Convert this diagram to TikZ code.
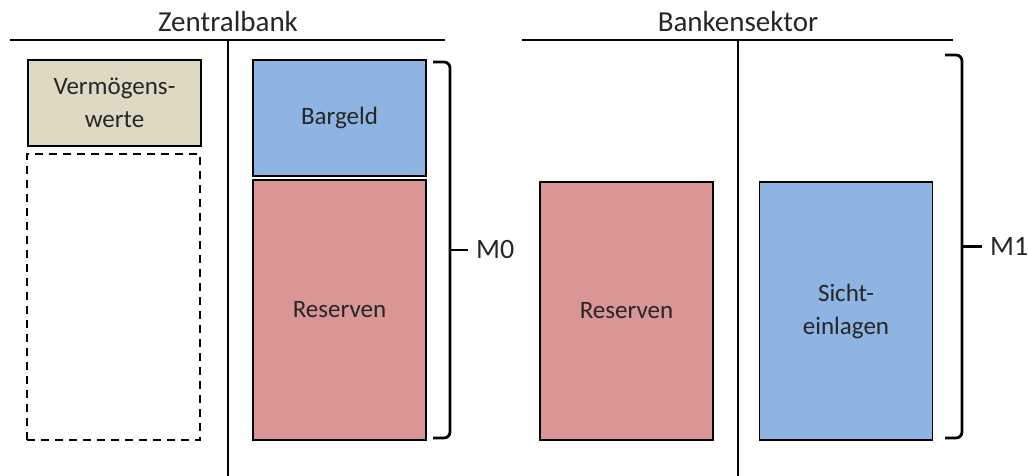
\documentclass[tikz,border=0pt]{standalone}
\usepackage{fontspec}
\setmainfont{Carlito}
\usepackage{tikz}

\definecolor{tanbox}{RGB}{221,217,195}
\definecolor{bluebox}{RGB}{141,180,226}
\definecolor{redbox}{RGB}{217,150,148}
\definecolor{inktext}{RGB}{38,38,38}

\begin{document}
\begin{tikzpicture}
            [x=1pt,y=-1pt,line width=1.6pt,
             box/.style={draw,line width=1.4pt,minimum width=173pt,inner sep=0pt,align=center,
                         text=inktext,font=\fontsize{25}{33}\selectfont},
             title/.style={text=inktext,font=\fontsize{29}{34}\selectfont},
             money/.style={text=inktext,anchor=west,font=\fontsize{28}{34}\selectfont},
             bracket/.style={line width=2.8pt,rounded corners=6pt}]
            \useasboundingbox (0,0) rectangle (1028,476);

            % T-accounts
            \node[title] (ZB) at (228,22) {Zentralbank};
            \node[title] (BS) at (738,22) {Bankensektor};
            \draw (10,40) -- (445,40);
            \draw (228,40) -- (228,476);
            \draw (522,40) -- (953,40);
            \draw (738,40) -- (738,476);

            % central bank
            \node[box,fill=tanbox,minimum height=86pt] (VW) at (114.5,103) {Vermögens-\\werte};
            \node[box,dashed,dash pattern=on 8pt off 6pt,minimum height=286pt] (VX) at (113.5,297) {};
            \node[box,fill=bluebox,minimum height=116pt] (BG) at (339.5,118) {Bargeld};
            \node[box,fill=redbox,minimum height=260pt] (RZ) at (339.5,310) {Reserven};

            % banking sector
            \node[box,fill=redbox,minimum height=258pt] (RB) at (626.5,311) {Reserven};
            \node[box,fill=bluebox,minimum height=258pt] (SE) at (846,311) {Sicht-\\einlagen};

            % money aggregates
            \coordinate (M0top) at (433,62);
            \coordinate (M0mid) at (450,250);
            \coordinate (M0bot) at (433,438);
            \coordinate (M1top) at (945,55);
            \coordinate (M1mid) at (962,246.5);
            \coordinate (M1bot) at (945,438);
            \node[money] (M0) at (472,250) {M0};
            \node[money] (M1) at (986,246.5) {M1};
            \draw[bracket] (M0top) -| (M0mid) |- (M0bot);
            \draw[bracket,shorten >=4pt] (M0mid) -- (M0.west);
            \draw[bracket] (M1top) -| (M1mid) |- (M1bot);
            \draw[bracket,shorten >=4pt] (M1mid) -- (M1.west);
        \end{tikzpicture}
\end{document}
